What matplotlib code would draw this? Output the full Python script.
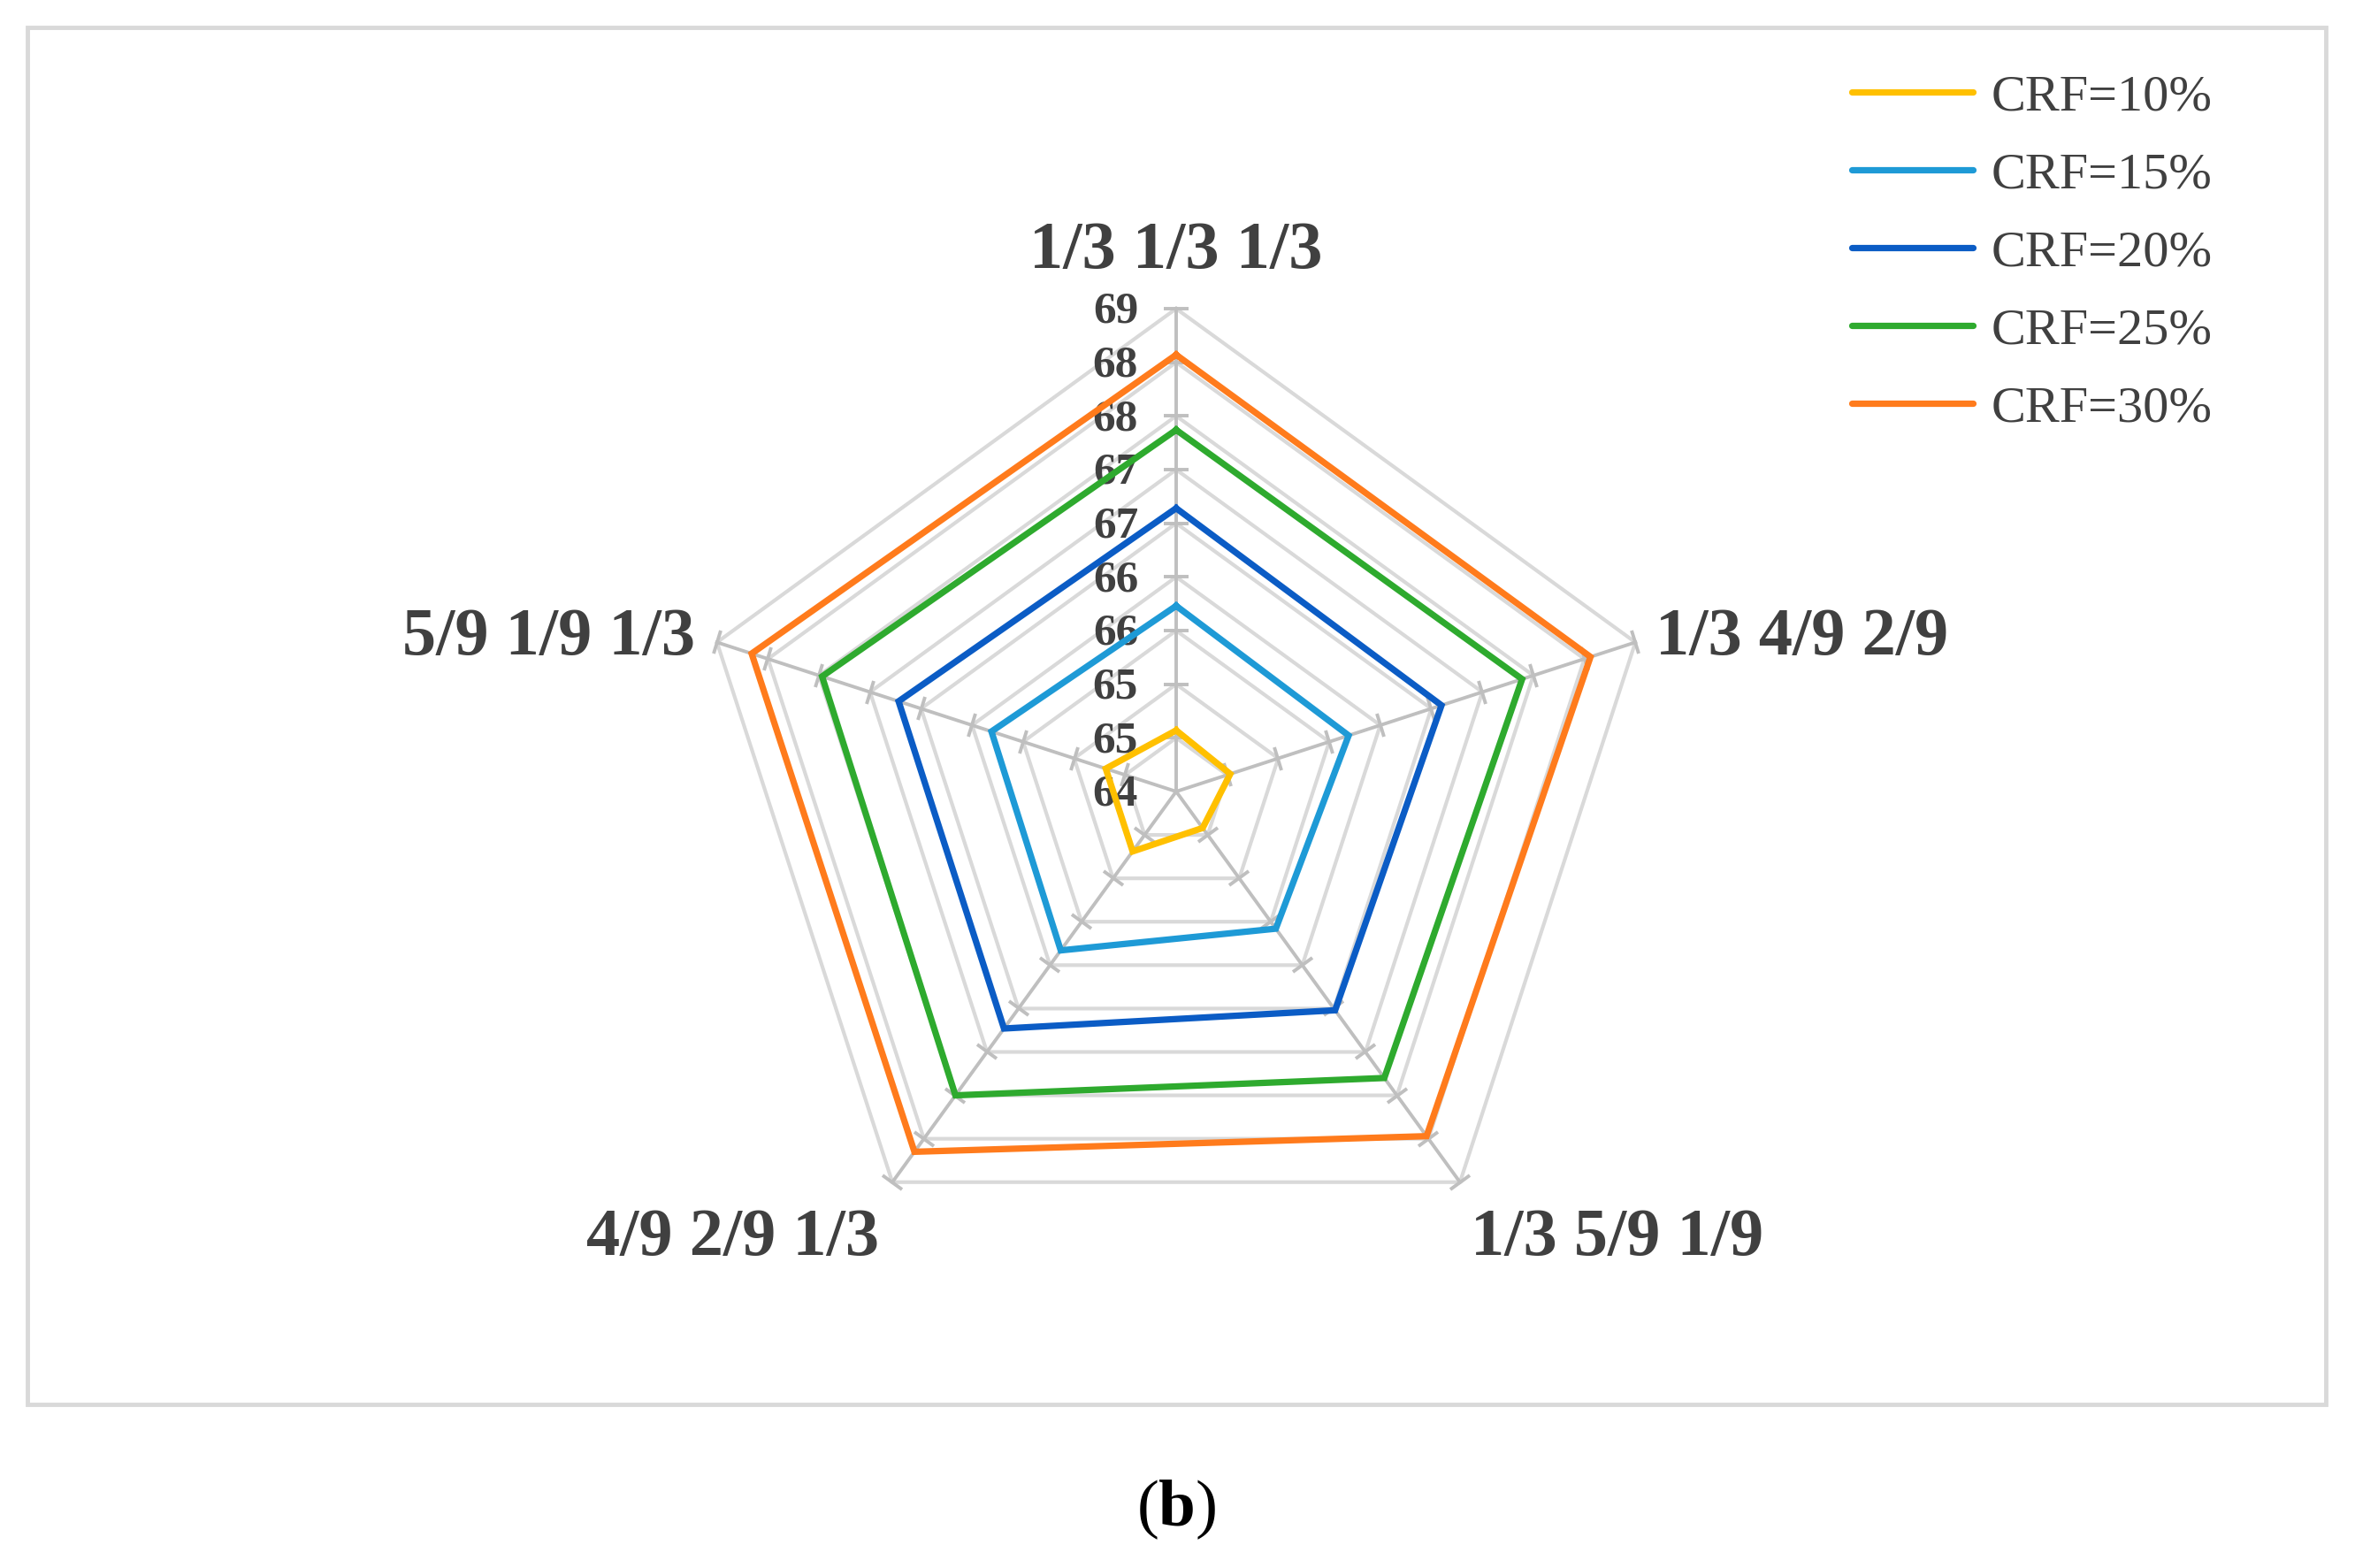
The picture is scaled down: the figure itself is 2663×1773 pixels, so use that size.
import numpy as np
import matplotlib
matplotlib.use("Agg")
import matplotlib.pyplot as plt
from matplotlib.markers import MarkerStyle
from matplotlib.transforms import Affine2D
from matplotlib.patches import Rectangle

plt.rcParams['font.family'] = ['Liberation Serif', 'DejaVu Serif']
plt.rcParams['mathtext.fontset'] = 'custom'
plt.rcParams['mathtext.rm'] = 'Liberation Serif'
plt.rcParams['mathtext.bf'] = 'Liberation Serif:bold'

# axes of the radar, clockwise from top
categories = ["1/3 1/3 1/3", "1/3 4/9 2/9", "1/3 5/9 1/9", "4/9 2/9 1/3", "5/9 1/9 1/3"]
series_names = ["CRF=10%", "CRF=15%", "CRF=20%", "CRF=25%", "CRF=30%"]
crf10 = [64.57, 64.53, 64.42, 64.69, 64.69]
crf15 = [65.73, 65.69, 65.58, 65.83, 65.81]
crf20 = [66.64, 66.60, 66.52, 66.73, 66.72]
crf25 = [67.37, 67.39, 67.30, 67.50, 67.47]
crf30 = [68.07, 68.06, 67.97, 68.15, 68.16]
levels = [64.0, 64.5, 65.0, 65.5, 66.0, 66.5, 67.0, 67.5, 68.0, 68.5]

colors = ['#FFC000', '#1E9AD6', '#0B5CC5', '#2EAA2E', '#FF7B1C']
txt = '#404040'

W, H = 2663, 1773
fig = plt.figure(figsize=(W / 100, H / 100), dpi=100)

# frame around the chart
fig.patches.append(Rectangle((31 / W, 1 - 1588 / H), 2599 / W, 1557 / H,
                             transform=fig.transFigure, fill=False,
                             edgecolor='#D9D9D9', linewidth=3.5))

cx, cy, R = 1330, 895, 546
ax = fig.add_axes([(cx - R) / W, (H - cy - R) / H, 2 * R / W, 2 * R / H],
                  projection='polar')
ax.set_theta_offset(np.pi / 2)
ax.set_theta_direction(-1)
ax.set_ylim(levels[0], levels[-1])
ax.grid(False)
ax.set_xticks([])
ax.set_yticks([])
ax.spines['polar'].set_visible(False)
ax.patch.set_alpha(0)

n = len(categories)
ang = np.arange(n) * 2 * np.pi / n
ang_c = np.append(ang, ang[0])

# pentagon gridlines
for lv in levels[1:]:
    ax.plot(ang_c, [lv] * (n + 1), color='#D9D9D9', lw=3.0, clip_on=False, zorder=1)
# spokes with cross ticks
for i, a in enumerate(ang):
    ax.plot([a, a], [levels[0], levels[-1]], color='#BFBFBF', lw=2.8, clip_on=False, zorder=2)
    mk = MarkerStyle('_', transform=Affine2D().rotate_deg(-360 / n * i))
    ax.plot([a] * (len(levels) - 1), levels[1:], ls='none', marker=mk, ms=20,
            mew=2.8, color='#BFBFBF', clip_on=False, zorder=2)

# radial tick labels
for lv in levels:
    ax.annotate(str(int(np.floor(lv + 0.5))), xy=(0, lv), xytext=(-43, -4),
                textcoords='offset pixels', ha='right', va='center',
                fontsize=37, fontweight='bold', color=txt, zorder=3)

# data
handles = []
for vals, name, c in zip([crf10, crf15, crf20, crf25, crf30], series_names, colors):
    h, = ax.plot(ang_c, vals + vals[:1], color=c, lw=5.2, label=name,
                 clip_on=False, zorder=4, solid_joinstyle='miter')
    handles.append(h)

# category labels
offs = [((0, 64), 'center'), ((23, 5), 'left'), ((12, -64), 'left'),
        ((-15, -64), 'right'), ((-25, 5), 'right')]
for a, lab, (o, ha) in zip(ang, categories, offs):
    ax.annotate(lab, xy=(a, levels[-1]), xytext=o, textcoords='offset pixels',
                ha=ha, va='center', fontsize=55, fontweight='bold', color=txt)

leg = fig.legend(handles=handles, loc='upper left', bbox_to_anchor=(2094 / W, 1 - 84 / H),
                 frameon=False, fontsize=42, handlelength=2.35, handletextpad=0.35,
                 labelspacing=0.6, borderpad=0, borderaxespad=0, labelcolor=txt)
for ln in leg.get_lines():
    ln.set_linewidth(5.2)
    ln.set_solid_capstyle('round')

fig.text(cx / W, 1 - 1707 / H, r'($\mathbf{b}$)', ha='center', va='center',
         fontsize=54, color='black')

fig.savefig('out.png', dpi=100)
